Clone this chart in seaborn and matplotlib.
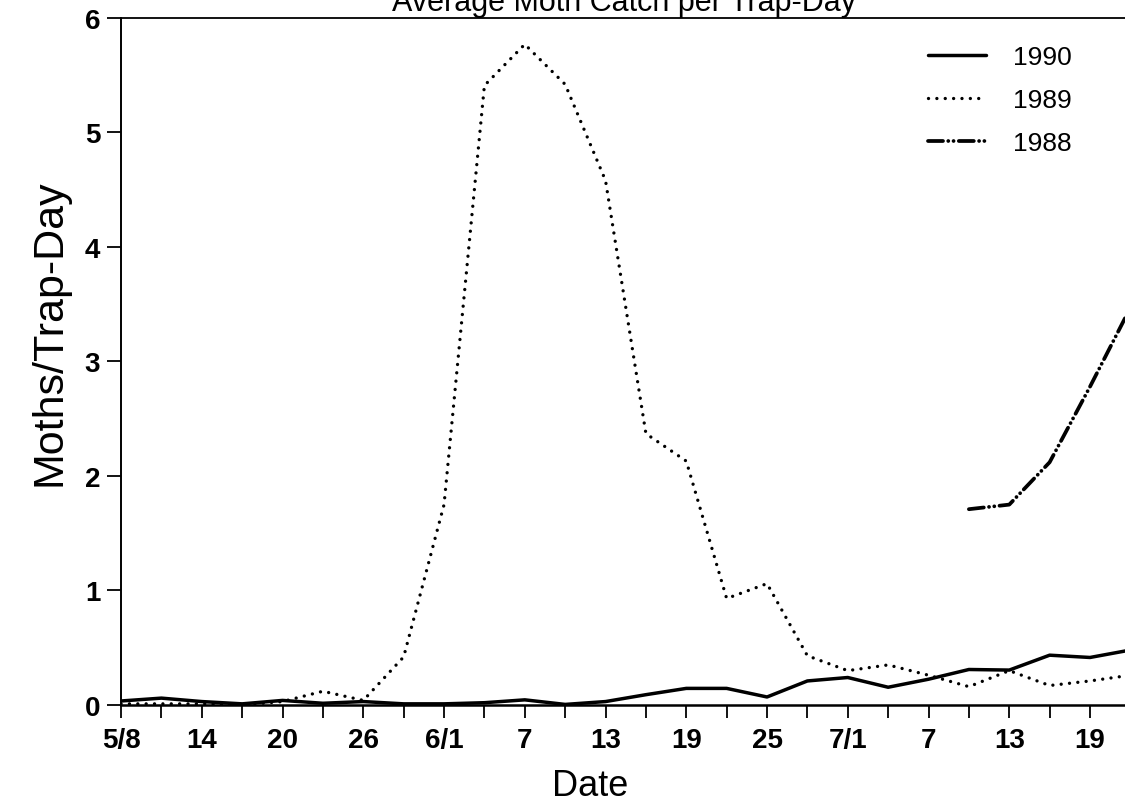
import matplotlib
matplotlib.use("Agg")
import matplotlib.pyplot as plt
import seaborn as sns

# Sampling days (every 3 days starting 5/8)
days = list(range(0, 76, 3))

moths_1990 = [0.035, 0.06, 0.03, 0.01, 0.04, 0.015, 0.03, 0.01, 0.01, 0.02,
              0.045, 0.005, 0.03, 0.09, 0.145, 0.145, 0.07, 0.21, 0.24, 0.155,
              0.225, 0.31, 0.305, 0.435, 0.415, 0.48]
moths_1989 = [0.01, 0.01, 0.01, 0.0, 0.03, 0.12, 0.04, 0.42, 1.75, 5.41,
              5.77, 5.42, 4.58, 2.37, 2.13, 0.93, 1.06, 0.43, 0.30, 0.35,
              0.26, 0.16, 0.30, 0.17, 0.21, 0.26]
days_1988 = [63, 66, 69, 72, 75]
moths_1988 = [1.71, 1.75, 2.12, 2.78, 3.47]

tick_days = list(range(0, 73, 6))
tick_labels = ['5/8', '14', '20', '26', '6/1', '7', '13', '19', '25', '7/1', '7', '13', '19']

sns.set_style('ticks', {'text.color': 'black', 'axes.labelcolor': 'black',
                        'xtick.color': 'black', 'ytick.color': 'black'})
plt.rcParams['font.family'] = ['Liberation Sans', 'DejaVu Sans']

fig = plt.figure(figsize=(11.25, 8.04), dpi=100)
ax = fig.add_axes([0.1076, 0.1219, 0.8924, 0.8545])

sns.lineplot(x=days, y=moths_1990, color='black', lw=2.5, label='1990', ax=ax)
sns.lineplot(x=days, y=moths_1989, color='black', lw=2.4, label='1989', ax=ax,
             linestyle=(0, (0.01, 2.5)), dash_capstyle='round')
sns.lineplot(x=days_1988, y=moths_1988, color='black', lw=2.7, label='1988', ax=ax,
             linestyle=(0, (4.0, 1.4, 0.01, 1.4, 0.01, 1.4)), dash_capstyle='round')

ax.set_xlim(0, 74.6)
ax.set_ylim(0, 6)

ax.set_xticks(range(0, 75, 3), minor=True)
ax.set_xticks(tick_days)
ax.set_xticklabels(tick_labels, fontsize=20, fontweight='bold')
ax.set_yticks(range(0, 7))
ax.set_yticklabels([str(v) for v in range(0, 7)], fontsize=20, fontweight='bold')
ax.tick_params(axis='x', which='both', direction='out', length=9, width=1.3, pad=7)
ax.tick_params(axis='y', direction='out', length=10, width=1.3, pad=5)

for side in ['left', 'top', 'bottom']:
    ax.spines[side].set_color('black')
ax.spines['left'].set_linewidth(1.4)
ax.spines['top'].set_linewidth(1.3)
ax.spines['bottom'].set_linewidth(1.8)
ax.spines['right'].set_visible(False)

ax.set_xlabel('Date', fontsize=26)
ax.set_ylabel('Moths/Trap-Day', fontsize=31)
ax.xaxis.set_label_coords(0.467, -0.092)
ax.yaxis.set_label_coords(-0.051, 0.544)

fig.text(0.555, 1 - 11 / 804, 'Average Moth Catch per Trap-Day', fontsize=22,
         ha='center', va='baseline')

handles, labels = ax.get_legend_handles_labels()
ax.legend(handles, labels, loc='upper left', bbox_to_anchor=(0.804, 0.961),
          frameon=False, fontsize=19, handlelength=2.2, handletextpad=1.0,
          labelspacing=0.73, borderpad=0, borderaxespad=0)

fig.savefig('out.png', dpi=100)
